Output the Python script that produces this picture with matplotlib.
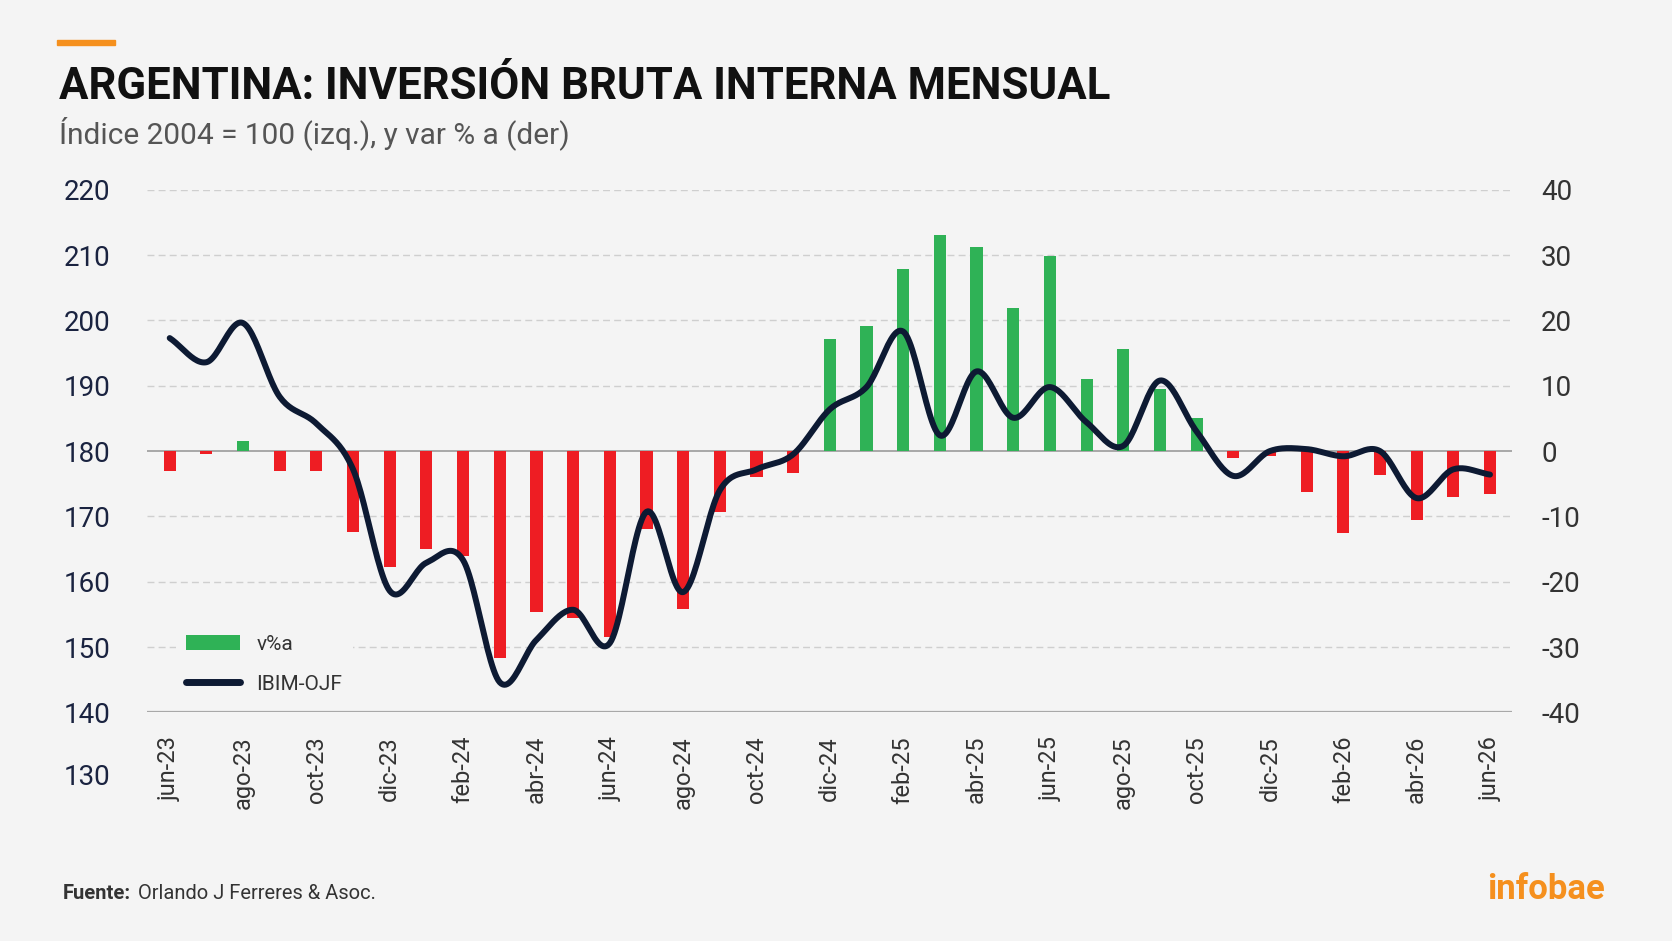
import numpy as np
import matplotlib.pyplot as plt
from matplotlib.patches import Patch, Rectangle
from matplotlib.lines import Line2D

# Datos
meses = ["jun-23", "jul-23", "ago-23", "sep-23", "oct-23", "nov-23", "dic-23",
         "ene-24", "feb-24", "mar-24", "abr-24", "may-24", "jun-24", "jul-24",
         "ago-24", "sep-24", "oct-24", "nov-24", "dic-24", "ene-25", "feb-25",
         "mar-25", "abr-25", "may-25", "jun-25", "jul-25", "ago-25", "sep-25",
         "oct-25", "nov-25", "dic-25", "ene-26", "feb-26", "mar-26", "abr-26",
         "may-26", "jun-26"]

var_anual = [-3.0, -0.5, 1.6, -3.0, -3.0, -12.4, -17.8, -15.0, -16.0, -31.7,
             -24.7, -25.5, -28.4, -11.9, -24.2, -9.3, -3.9, -3.4, 17.1, 19.1,
             27.8, 33.1, 31.2, 21.9, 29.9, 11.1, 15.7, 9.5, 5.1, -1.0, -0.8,
             -6.2, -12.6, -3.6, -10.6, -7.0, -6.5]

ibim = [197.3, 193.6, 199.6, 188.3, 184.2, 177.2, 158.6, 162.9, 163.3, 144.6,
        151.1, 155.7, 150.6, 170.7, 158.4, 174.0, 177.2, 179.5, 186.4, 189.8,
        198.3, 182.4, 192.2, 185.1, 189.8, 184.4, 180.8, 190.8, 183.0, 176.2,
        180.0, 180.3, 179.2, 180.0, 172.8, 177.2, 176.4]

BG = "#f4f4f4"
ROJO = "#ee1d23"
VERDE = "#2fb256"
AZUL = "#0d1a33"
NARANJA = "#f5901e"


def catmull_rom(x, y, n=24):
    # curva suave que pasa por cada punto mensual
    x = np.asarray(x, float)
    y = np.asarray(y, float)
    px = np.concatenate([[2 * x[0] - x[1]], x, [2 * x[-1] - x[-2]]])
    py = np.concatenate([[2 * y[0] - y[1]], y, [2 * y[-1] - y[-2]]])
    xs, ys = [], []
    t = np.linspace(0, 1, n, endpoint=False)
    for i in range(1, len(px) - 2):
        for p, out in ((px, xs), (py, ys)):
            p0, p1, p2, p3 = p[i - 1], p[i], p[i + 1], p[i + 2]
            out.append(0.5 * ((2 * p1) + (-p0 + p2) * t
                              + (2 * p0 - 5 * p1 + 4 * p2 - p3) * t ** 2
                              + (-p0 + 3 * p1 - 3 * p2 + p3) * t ** 3))
    xs.append([x[-1]])
    ys.append([y[-1]])
    return np.concatenate(xs), np.concatenate(ys)


plt.rcParams["font.family"] = ["Roboto", "DejaVu Sans"]
plt.rcParams["axes.unicode_minus"] = False

fig = plt.figure(figsize=(16.72, 9.41), dpi=100, facecolor=BG)
ax = fig.add_axes([0.0879, 0.2430, 0.8164, 0.5553])
axr = ax.twinx()

x = np.arange(len(meses))
colores = [VERDE if v >= 0 else ROJO for v in var_anual]

# barras (eje derecho)
axr.bar(x, var_anual, width=0.33, color=colores, zorder=3)
axr.set_ylim(-40, 40)
for v in range(-30, 41, 10):
    if v != 0:
        axr.axhline(v, color="#cfcfcf", lw=1, ls=(0, (5, 3)), zorder=1)
axr.axhline(0, color="#9a9a9a", lw=1.2, zorder=2)
axr.axhline(-40, color="#a8a8a8", lw=1.6, zorder=2)
axr.set_yticks(range(-40, 41, 10))
axr.tick_params(axis="y", length=0, pad=21, labelsize=20, labelcolor="#333333")
axr.set_facecolor(BG)

# línea (eje izquierdo)
ax.set_zorder(axr.get_zorder() + 1)
ax.patch.set_visible(False)
xs, ys = catmull_rom(x, ibim)
ax.plot(xs, ys, color=AZUL, lw=4.3, solid_capstyle="round", zorder=4)
ax.set_ylim(140, 220)
ax.set_yticks(range(140, 221, 10))
ax.tick_params(axis="y", length=0, pad=26, labelsize=20, labelcolor="#1a2340")
ax.annotate("130", xy=(0, 130), xycoords=("axes fraction", "data"),
            xytext=(-26.5, 0), textcoords="offset points", ha="right",
            va="center", fontsize=20, color="#1a2340", annotation_clip=False)

ax.set_xlim(-0.62, 36.6)
ax.set_xticks(x[::2])
ax.set_xticklabels(meses[::2], rotation=90, fontsize=17, color="#333333")
ax.tick_params(axis="x", length=0, pad=17)

for a in (ax, axr):
    for s in a.spines.values():
        s.set_visible(False)

# leyenda
handles = [Patch(facecolor=VERDE, edgecolor="none"),
           Line2D([0], [0], color=AZUL, lw=5, solid_capstyle="round")]
leg = ax.legend(handles, ["v%a", "IBIM-OJF"], loc="upper left",
                bbox_to_anchor=(0.1053, 0.3365), bbox_transform=fig.transFigure,
                fontsize=15, frameon=True, facecolor=BG, edgecolor="none",
                framealpha=1, borderaxespad=0, borderpad=0.5,
                handlelength=2.55, handletextpad=0.8, labelspacing=1.0)
for t in leg.get_texts():
    t.set_color("#333333")

# títulos y pie
fig.patches.append(Rectangle((0.0338, 0.9524), 0.0351, 0.0056,
                             transform=fig.transFigure, color=NARANJA))
fig.text(0.035, 0.8946, "ARGENTINA: INVERSIÓN BRUTA INTERNA MENSUAL",
         fontweight="bold", fontsize=31.5, color="#111111",
         ha="left", va="baseline")
fig.text(0.035, 0.8480, "Índice 2004 = 100 (izq.), y var % a (der)",
         fontsize=21.5, color="#555555", ha="left", va="baseline")
fig.text(0.0376, 0.0445, "Fuente:", fontsize=14.5, fontweight="bold",
         color="#333333", ha="left", va="baseline")
fig.text(0.0826, 0.0445, "Orlando J Ferreres & Asoc.", fontsize=14.5,
         color="#333333", ha="left", va="baseline")
fig.text(0.960, 0.0445, "infobae", fontsize=25, fontweight="bold",
         color=NARANJA, ha="right", va="baseline")

fig.savefig("out.png", dpi=100, facecolor=BG)
